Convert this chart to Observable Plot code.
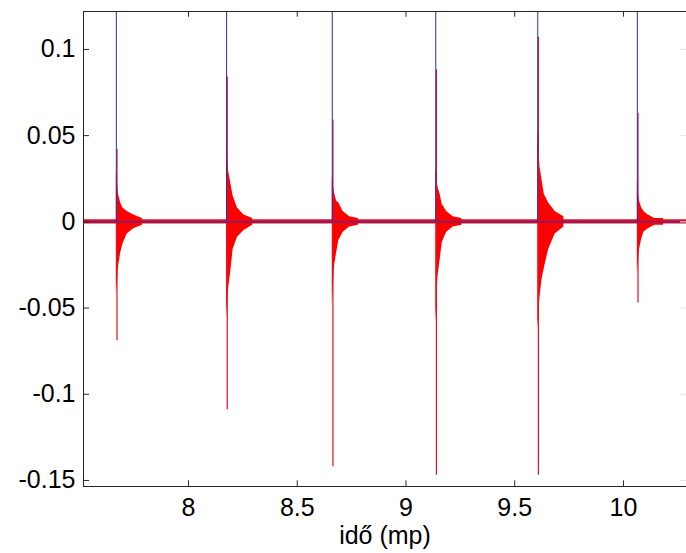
<!DOCTYPE html>
<html><head><meta charset="utf-8">
<script src="https://cdn.jsdelivr.net/npm/d3@7"></script>
<script src="https://cdn.jsdelivr.net/npm/@observablehq/plot@0.6"></script>
<style>body{margin:0;background:#fff;} svg{display:block;}</style>
</head><body>
<script>
// axes
const xTicks = [8, 8.5, 9, 9.5, 10];
const yTicks = [-0.15, -0.1, -0.05, 0, 0.05, 0.1];
const xDomain = [7.517, 10.29];
const yDomain = [-0.1535, 0.122];
const xLabel = "idő (mp)";

// onset times (blue impulses) and the thin red peaks at each onset
const onsets  = [7.668, 8.175, 8.661, 9.137, 9.606, 10.064];
const peakPos = [0.042, 0.084, 0.059, 0.088, 0.107, 0.063];
const peakNeg = [-0.069, -0.109, -0.142, -0.147, -0.147, -0.047];
const blueImpulse = 1;          // impulse height (off the top of the chart)
const noiseLevel = 0.0012;      // baseline noise amplitude

// decay envelope of the red signal after each onset (time offset in s)
const envOffsets = [0, 0.004, 0.01, 0.02, 0.03, 0.05, 0.08, 0.12];
const envUpper1 = [0.028, 0.024, 0.016, 0.011, 0.008, 0.006, 0.004, 0.002];
const envUpper2 = [0.045, 0.036, 0.029, 0.022, 0.015, 0.008, 0.004, 0.002];
const envUpper3 = [0.026, 0.022, 0.017, 0.012, 0.011, 0.006, 0.003, 0.002];
const envUpper4 = [0.031, 0.027, 0.020, 0.016, 0.010, 0.006, 0.003, 0.002];
const envUpper5 = [0.054, 0.046, 0.032, 0.024, 0.016, 0.011, 0.006, 0.003];
const envUpper6 = [0.024, 0.018, 0.012, 0.008, 0.006, 0.004, 0.002, 0.002];
const envLower1 = [-0.042, -0.036, -0.026, -0.018, -0.013, -0.007, -0.004, -0.002];
const envLower2 = [-0.056, -0.048, -0.038, -0.028, -0.016, -0.009, -0.005, -0.002];
const envLower3 = [-0.048, -0.040, -0.026, -0.018, -0.011, -0.006, -0.003, -0.002];
const envLower4 = [-0.059, -0.048, -0.032, -0.022, -0.012, -0.006, -0.003, -0.002];
const envLower5 = [-0.062, -0.055, -0.044, -0.033, -0.027, -0.016, -0.007, -0.003];
const envLower6 = [-0.030, -0.024, -0.016, -0.010, -0.006, -0.004, -0.002, -0.002];

const envUpper = [envUpper1, envUpper2, envUpper3, envUpper4, envUpper5, envUpper6];
const envLower = [envLower1, envLower2, envLower3, envLower4, envLower5, envLower6];

const envRows = onsets.flatMap((t, i) => envOffsets.map((o, j) => ({
  x: t + o, hi: envUpper[i][j], lo: envLower[i][j], s: i
})));
const spikeRows = onsets.map((t, i) => ({x: t + 0.003, hi: peakPos[i], lo: peakNeg[i]}));
const impulseRows = onsets.map(t => ({x: t, v: blueImpulse}));
const noiseRows = xDomain.map(x => ({x, hi: noiseLevel, lo: -noiseLevel}));

// MATLAB-style inward ticks, length as a fraction of the axis span
const tickFrac = 0.012;
const ySpan = yDomain[1] - yDomain[0];
const xSpan = xDomain[1] - xDomain[0];

const font = "'Liberation Sans', Arial, Helvetica, sans-serif";
const axisColor = "#262626";

const chart = Plot.plot({
  width: 686,
  height: 553,
  marginLeft: 83,
  marginRight: 0,
  marginTop: 11,
  marginBottom: 67,
  style: {fontFamily: font, fontSize: "25px", color: "#000", background: "#fff", overflow: "visible"},
  x: {domain: xDomain, axis: null},
  y: {domain: yDomain, axis: null},
  marks: [
    Plot.areaY(noiseRows, {x: "x", y1: "lo", y2: "hi", fill: "#e5101c"}),
    Plot.areaY(envRows, {x: "x", y1: "lo", y2: "hi", z: "s", fill: "#ff0000", curve: "linear"}),
    Plot.ruleX(spikeRows, {x: "x", y1: "lo", y2: "hi", stroke: "#e8101c", strokeWidth: 1.2}),
    Plot.ruleY([0], {stroke: "#4a2a9c", strokeWidth: 1.2}),
    Plot.ruleX(impulseRows, {x: "x", y1: 0, y2: "v", stroke: "#2c2cb0", strokeWidth: 1, clip: true}),
    // frame (right side lies outside the picture)
    Plot.ruleX([xDomain[0]], {stroke: axisColor, strokeWidth: 1}),
    Plot.ruleY([yDomain[0], yDomain[1]], {stroke: axisColor, strokeWidth: 1}),
    // inward ticks
    Plot.ruleX(xTicks, {x: d => d, y1: yDomain[0], y2: yDomain[0] + tickFrac * ySpan, stroke: axisColor}),
    Plot.ruleX(xTicks, {x: d => d, y1: yDomain[1], y2: yDomain[1] - tickFrac * ySpan, stroke: axisColor}),
    Plot.ruleY(yTicks, {y: d => d, x1: xDomain[0], x2: xDomain[0] + 0.01 * xSpan, stroke: axisColor}),
    Plot.ruleY(yTicks, {y: d => d, x1: xDomain[1], x2: xDomain[1] - 0.01 * xSpan, stroke: "#e4e4e4"}),
    // tick labels
    Plot.axisX(xTicks, {tickSize: 0, tickPadding: 12, tickFormat: d => String(d), fontSize: 25, label: null, fill: "#000"}),
    Plot.axisY(yTicks, {tickSize: 0, tickPadding: 8, tickFormat: d => String(d), fontSize: 25, label: null, fill: "#000"}),
    Plot.text([xLabel], {frameAnchor: "bottom", lineAnchor: "bottom", dy: 57, text: d => d, fontSize: 25, fill: "#000"})
  ]
});
document.body.appendChild(chart);
</script>
</body></html>
